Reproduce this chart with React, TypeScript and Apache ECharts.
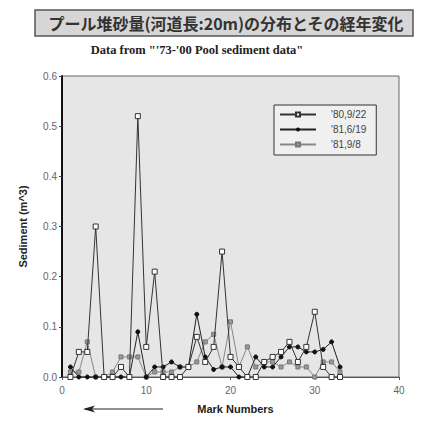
import React, { useEffect, useRef } from "react";
import * as echarts from "echarts";

const markNumbers = [1,2,3,4,5,6,7,8,9,10,11,12,13,14,15,16,17,18,19,20,21,22,23,24,25,26,27,28,29,30,31,32,33];
const s1980_0922 = [0.0,0.05,0.05,0.30,0.0,0.0,0.02,0.0,0.52,0.06,0.21,0.0,0.0,0.0,0.02,0.08,0.03,0.06,0.25,0.04,0.02,0.0,0.0,0.03,0.04,0.05,0.07,0.03,0.06,0.13,0.02,0.0,0.0];
const s1981_0619 = [0.02,0.0,0.0,0.0,0.0,0.0,0.0,0.0,0.09,0.0,0.02,0.02,0.03,0.02,0.02,0.125,0.04,0.015,0.02,0.02,0.0,0.0,0.04,0.02,0.02,0.04,0.06,0.06,0.05,0.05,0.055,0.07,0.02];
const s1981_0908 = [0.01,0.01,0.07,0.0,0.0,0.01,0.04,0.04,0.04,0.0,0.01,0.01,0.01,0.02,0.02,0.03,0.07,0.085,0.02,0.11,0.02,0.06,0.02,0.03,0.03,0.02,0.03,0.02,0.02,0.0,0.03,0.03,0.01];
const seriesNames = ["'80,9/22", "'81,6/19", "'81,9/8"];
const xTicks = [0, 10, 20, 30, 40];
const yTicks = [0, 0.1, 0.2, 0.3, 0.4, 0.5, 0.6];

export default function App() {
  const ref = useRef<HTMLDivElement>(null);
  useEffect(() => {
    if (!ref.current) return;
    const chart = echarts.init(ref.current, null, { renderer: "svg" });
    const pair = (vals: number[]) => markNumbers.map((m, i) => [m, vals[i]]);
    chart.setOption({
      animation: false,
      backgroundColor: "#ffffff",
      textStyle: { fontFamily: "Liberation Sans, Arial, sans-serif" },
      grid: {
        left: 62, right: 23, top: 76, bottom: 46,
        show: true, backgroundColor: "#e6e6e6", borderColor: "#666", borderWidth: 1,
      },
      legend: {
        orient: "vertical",
        left: 274, top: 105, width: 104,
        padding: [4, 10, 5, 5],
        itemGap: 4,
        itemWidth: 36, itemHeight: 5,
        backgroundColor: "#f0f0f0",
        borderColor: "#333", borderWidth: 1,
        textStyle: { fontSize: 10, color: "#444", padding: [0, 0, 0, 10], lineHeight: 11 },
        data: seriesNames,
      },
      xAxis: {
        type: "value", min: xTicks[0], max: xTicks[xTicks.length - 1], interval: 10,
        name: "Mark Numbers", nameLocation: "middle", nameGap: 26,
        nameTextStyle: { fontSize: 11, fontWeight: "bold", color: "#222", padding: [0, 0, 0, 10] },
        axisLine: { show: true, onZero: false, lineStyle: { color: "#555", width: 1 } },
        axisTick: { show: true, length: 3, lineStyle: { color: "#555" } },
        axisLabel: { fontSize: 10, color: "#666", margin: 8 },
        splitLine: { show: false },
      },
      yAxis: {
        type: "value", min: yTicks[0], max: yTicks[yTicks.length - 1], interval: 0.1,
        name: "Sediment (m^3)", nameLocation: "middle", nameGap: 34,
        nameTextStyle: { fontSize: 11, fontWeight: "bold", color: "#222" },
        axisLine: { show: true, lineStyle: { color: "#111", width: 2 } },
        axisTick: { show: true, length: 3, lineStyle: { color: "#444" } },
        axisLabel: { fontSize: 10, color: "#666", margin: 5, formatter: (v: number) => v.toFixed(1) },
        splitLine: { show: false },
      },
      series: [
        {
          name: seriesNames[0], type: "line", data: pair(s1980_0922),
          symbol: "rect", symbolSize: 5,
          lineStyle: { color: "#333", width: 1 },
          itemStyle: { color: "#ffffff", borderColor: "#333", borderWidth: 1 },
          z: 3,
        },
        {
          name: seriesNames[1], type: "line", data: pair(s1981_0619),
          symbol: "circle", symbolSize: 4,
          lineStyle: { color: "#222", width: 1 },
          itemStyle: { color: "#111", borderColor: "#111" },
          z: 2,
        },
        {
          name: seriesNames[2], type: "line", data: pair(s1981_0908),
          symbol: "rect", symbolSize: 4,
          lineStyle: { color: "#888", width: 1 },
          itemStyle: { color: "#999", borderColor: "#777", borderWidth: 1 },
          z: 1,
        },
      ],
      graphic: [
        {
          type: "rect", shape: { x: 35, y: 10, width: 378, height: 26 },
          style: { fill: "#d6d6d6", stroke: "#555", lineWidth: 1.5 },
        },
        {
          type: "text", x: 226, y: 23,
          style: {
            text: "プール堆砂量(河道長:20m)の分布とその経年変化",
            fontSize: 16, fontWeight: "bold", fill: "#333",
            fontFamily: "Noto Sans CJK JP, sans-serif",
            align: "center", verticalAlign: "middle",
          },
        },
        {
          type: "text", x: 197, y: 50,
          style: {
            text: "Data from \"'73-'00 Pool sediment data\"",
            fontSize: 12.5, fontWeight: "bold", fill: "#222",
            fontFamily: "Liberation Serif, serif",
            align: "center", verticalAlign: "middle",
          },
        },
        {
          type: "line", shape: { x1: 163, y1: 409, x2: 85, y2: 409 },
          style: { stroke: "#222", lineWidth: 1.2 },
        },
        {
          type: "polygon", shape: { points: [[83, 409], [95, 405.5], [92, 409], [95, 412.5]] },
          style: { fill: "#222" },
        },
      ],
    });
    return () => chart.dispose();
  }, []);
  return (
    <div
      ref={ref}
      style={{ position: "fixed", left: 0, top: 0, width: 422, height: 423 }}
    />
  );
}
